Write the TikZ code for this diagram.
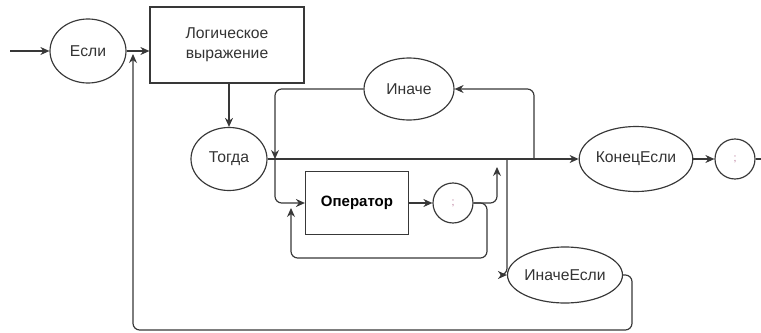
\documentclass[tikz,border=0pt]{standalone}
\usepackage{fontspec}
\setmainfont{Liberation Sans}
\usetikzlibrary{arrows.meta,shapes.geometric}
\definecolor{darktext}{HTML}{333333}
\definecolor{semi}{HTML}{B87898}
\tikzset{
  oval/.style={draw, ellipse, inner sep=0pt, text=darktext},
  dot/.style={draw, circle, minimum size=12mm, inner sep=0pt, text=semi, font=\small},
  flow/.style={-{Stealth[length=2.7mm,width=2.4mm]}, rounded corners=2mm},
}
\begin{document}
\begin{tikzpicture}[x=0.3mm, y=-0.3mm, line width=1pt, draw=black!78, font=\fontsize{13.4}{17}\selectfont]
                \useasboundingbox (0,0) rectangle (761,333);
                \node [oval, minimum width=22.8mm, minimum height=19.2mm] (ESL) at (88,51) {Если};
                \node [draw, minimum width=46.2mm, minimum height=22.8mm, align=center, text=darktext] (LOG) at (227,45) {Логическое\\выражение};
                \node [oval, minimum width=22.8mm, minimum height=18.9mm] (TOG) at (229,159) {Тогда};
                \node [oval, minimum width=27mm, minimum height=18.6mm] (INA) at (409,89) {Иначе};
                \node [draw, minimum width=30.9mm, minimum height=18.9mm, font=\fontsize{12.8}{16.5}\selectfont\bfseries] (OPR) at (357,203) {Оператор};
                \node [dot] (SC1) at (453,203) {;};
                \node [oval, minimum width=30.3mm, minimum height=19.5mm] (KON) at (636,159) {КонецЕсли};
                \node [dot] (SC2) at (735,159) {;};
                \node [oval, minimum width=26.4mm, minimum height=16.8mm] (IE) at (565,275) {ИначеЕсли};

                \coordinate (IN) at (10,51);
                \coordinate (OUT) at (761,159);
                \coordinate (J1) at (275,159);
                \coordinate (J2) at (497,167);
                \coordinate (J3) at (507,159);
                \coordinate (J4) at (534,159);
                \coordinate (L1) at (487,258);
                \coordinate (L2) at (291,208);
                \coordinate (B1) at (632,330);
                \coordinate (JB) at (133,54);

                \draw[flow] (IN) -- (ESL);
                \draw[flow] (ESL) -- (ESL -| LOG.west);
                \draw[flow] (LOG.south -| TOG) -- (TOG);
                \draw[flow] (TOG) -- (KON);
                \draw[flow] (KON) -- (SC2);
                \draw (SC2) -- (OUT);
                \draw[flow] (INA.west) -| (J1);
                \draw[flow] (J4) |- (INA.east);
                \draw[flow] (J1) |- (OPR.west);
                \draw[flow] (OPR) -- (SC1);
                \draw[flow] (SC1.east) -| (J2);
                \draw[flow] (SC1.east) -| (L1) -| (L2);
                \draw[flow] (J3) |- (IE);
                \draw[flow] (IE) -| (B1) -| (JB);
            \end{tikzpicture}
\end{document}
